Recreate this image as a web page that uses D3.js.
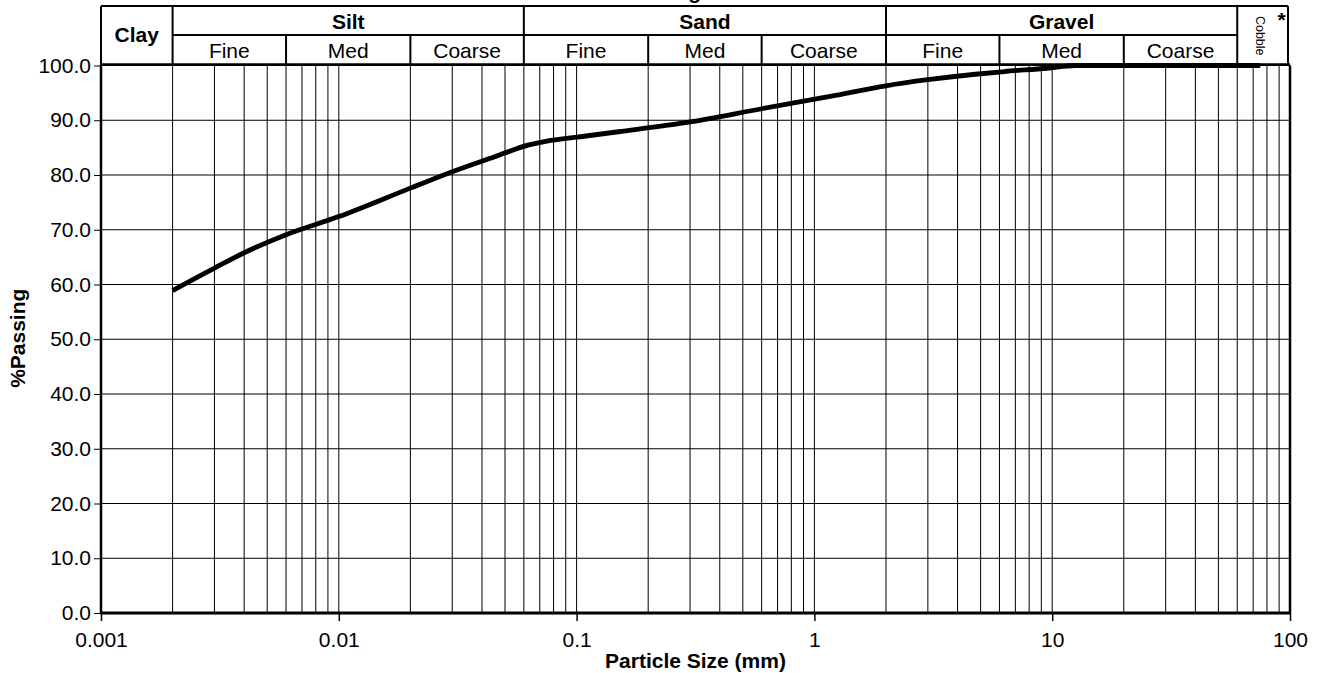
<!DOCTYPE html>
<html>
<head>
<meta charset="utf-8">
<script src="https://cdn.jsdelivr.net/npm/d3@7"></script>
<style>
  html, body { margin: 0; padding: 0; background: #fff; }
  svg { display: block; font-family: "Liberation Sans", Arial, sans-serif; }
</style>
</head>
<body>
<svg id="chart" width="1318" height="673"></svg>
<script>
// ---- data ----
const particleSize = [0.002, 0.003, 0.004, 0.006, 0.01, 0.02, 0.03, 0.045, 0.063, 0.075, 0.1, 0.15, 0.3, 0.6, 1.18, 2, 3, 4.75, 6.3, 9.5, 12.5, 19, 37.5, 75];
const percentPassing = [58.9, 63.0, 65.8, 69.1, 72.4, 77.6, 80.6, 83.3, 85.5, 86.2, 86.9, 87.9, 89.7, 92.1, 94.4, 96.3, 97.4, 98.4, 98.9, 99.5, 100, 100, 100, 100];
const xTickValues = [0.001, 0.01, 0.1, 1, 10, 100];
const xTickLabels = ["0.001", "0.01", "0.1", "1", "10", "100"];
const yTickValues = [0, 10, 20, 30, 40, 50, 60, 70, 80, 90, 100];
const soilClasses = ["Clay", "Silt", "Sand", "Gravel", "Cobble"];
const classBounds = [0.001, 0.002, 0.06, 2, 60, 100];
const subClasses = ["Fine", "Med", "Coarse", "Fine", "Med", "Coarse", "Fine", "Med", "Coarse"];
const subBounds = [0.002, 0.006, 0.02, 0.06, 0.2, 0.6, 2, 6, 20, 60];
const titleText = "Grading";
const xAxisTitle = "Particle Size (mm)";
const yAxisTitle = "%Passing";

// ---- layout ----
const svg = d3.select("#chart");
const pLeft = 101, pRight = 1290, pTop = 65.5, pBottom = 613;
const hTop = 6, hMid = 35;
const FONT = "Liberation Sans, Arial, sans-serif";

const x = d3.scaleLog().domain([0.001, 100]).range([pLeft, pRight]);
const y = d3.scaleLinear().domain([0, 100]).range([pBottom, pTop]);

// title (mostly cut off at top of picture, as in the reference)
svg.append("text").attr("x", 701).attr("y", -1.5).attr("text-anchor", "end")
  .attr("font-weight", "bold").attr("font-size", 21).text(titleText);

// vertical grid
const vGrid = [];
for (let e = -3; e < 2; e++) {
  for (let m = 1; m <= 9; m++) vGrid.push(m * Math.pow(10, e));
}
vGrid.push(100);
svg.append("g").selectAll("line").data(vGrid).join("line")
  .attr("x1", d => x(d)).attr("x2", d => x(d))
  .attr("y1", pTop).attr("y2", pBottom)
  .attr("stroke", "#000").attr("stroke-width", 1);

// horizontal grid
svg.append("g").selectAll("line").data(yTickValues).join("line")
  .attr("x1", pLeft).attr("x2", pRight)
  .attr("y1", d => y(d)).attr("y2", d => y(d))
  .attr("stroke", "#000").attr("stroke-width", 1);

// axes
const yAxis = d3.axisLeft(y).tickValues(yTickValues).tickFormat(d3.format(".1f")).tickSize(7).tickPadding(3);
const gy = svg.append("g").attr("transform", `translate(${pLeft},0)`).call(yAxis);
gy.select(".domain").remove();
gy.selectAll(".tick line").attr("stroke", "#000").attr("stroke-width", 1);
gy.selectAll(".tick text").attr("font-size", 21).attr("fill", "#000").attr("font-family", FONT);

const xAxis = d3.axisBottom(x).tickValues(xTickValues).tickFormat((d, i) => xTickLabels[i]).tickSize(8).tickPadding(11);
const gx = svg.append("g").attr("transform", `translate(0,${pBottom})`).call(xAxis);
gx.select(".domain").remove();
gx.selectAll(".tick line").attr("stroke", "#000").attr("stroke-width", 1.5);
gx.selectAll(".tick text").attr("font-size", 21).attr("fill", "#000").attr("font-family", FONT);

// plot border
svg.append("line").attr("x1", pLeft).attr("x2", pLeft).attr("y1", pTop - 1).attr("y2", pBottom + 1).attr("stroke", "#000").attr("stroke-width", 2.5);
svg.append("line").attr("x1", pLeft - 1).attr("x2", pRight + 1).attr("y1", pBottom).attr("y2", pBottom).attr("stroke", "#000").attr("stroke-width", 3);
svg.append("line").attr("x1", pRight).attr("x2", pRight).attr("y1", pTop).attr("y2", pBottom).attr("stroke", "#000").attr("stroke-width", 2.5);
svg.append("line").attr("x1", pLeft).attr("x2", pRight).attr("y1", pTop - 1).attr("y2", pTop - 1).attr("stroke", "#000").attr("stroke-width", 2.5);

// header
const hdr = svg.append("g");
const hStroke = 2;
hdr.append("line").attr("x1", pLeft).attr("x2", x(100) - 2).attr("y1", hTop).attr("y2", hTop).attr("stroke", "#000").attr("stroke-width", hStroke);
hdr.append("line").attr("x1", x(0.002)).attr("x2", x(60)).attr("y1", hMid).attr("y2", hMid).attr("stroke", "#000").attr("stroke-width", hStroke);
hdr.selectAll("line.full").data([0.001, 0.002, 0.06, 2, 60]).join("line").attr("class", "full")
  .attr("x1", d => x(d)).attr("x2", d => x(d)).attr("y1", hTop).attr("y2", pTop)
  .attr("stroke", "#000").attr("stroke-width", hStroke);
hdr.append("line").attr("x1", x(100) - 2).attr("x2", x(100) - 2).attr("y1", hTop).attr("y2", pTop)
  .attr("stroke", "#000").attr("stroke-width", hStroke);
hdr.selectAll("line.sub").data([0.006, 0.02, 0.2, 0.6, 6, 20]).join("line").attr("class", "sub")
  .attr("x1", d => x(d)).attr("x2", d => x(d)).attr("y1", hMid).attr("y2", pTop)
  .attr("stroke", "#000").attr("stroke-width", hStroke);

soilClasses.forEach((c, i) => {
  const cx = (x(classBounds[i]) + x(classBounds[i + 1])) / 2;
  if (c === "Clay") {
    hdr.append("text").attr("x", cx).attr("y", 42).attr("text-anchor", "middle")
      .attr("font-weight", "bold").attr("font-size", 21).text(c);
  } else if (c === "Cobble") {
    hdr.append("text").attr("transform", `translate(${cx - 3},${(hTop + pTop) / 2}) rotate(90)`)
      .attr("text-anchor", "middle").attr("dy", "0.35em")
      .attr("font-size", 12.5).text(c);
    hdr.append("text").attr("x", cx + 18).attr("y", 27).attr("text-anchor", "middle")
      .attr("font-weight", "bold").attr("font-size", 21).text("*");
  } else {
    hdr.append("text").attr("x", cx).attr("y", 29).attr("text-anchor", "middle")
      .attr("font-weight", "bold").attr("font-size", 21).text(c);
  }
});
subClasses.forEach((c, i) => {
  const cx = (x(subBounds[i]) + x(subBounds[i + 1])) / 2;
  hdr.append("text").attr("x", cx).attr("y", 58).attr("text-anchor", "middle")
    .attr("font-size", 21).text(c);
});

// curve
const pts = particleSize.map((s, i) => [s, percentPassing[i]]);
svg.append("path").datum(pts)
  .attr("fill", "none").attr("stroke", "#000").attr("stroke-width", 4.8)
  .attr("stroke-linejoin", "round")
  .attr("d", d3.line().x(d => x(d[0])).y(d => y(d[1])).curve(d3.curveMonotoneX));

// axis titles
svg.append("text").attr("x", (pLeft + pRight) / 2).attr("y", 668).attr("text-anchor", "middle")
  .attr("font-weight", "bold").attr("font-size", 21).text(xAxisTitle);
svg.append("text").attr("transform", `translate(25,${(pTop + pBottom) / 2 - 1}) rotate(-90)`)
  .attr("text-anchor", "middle").attr("font-weight", "bold").attr("font-size", 21).text(yAxisTitle);
</script>
</body>
</html>
